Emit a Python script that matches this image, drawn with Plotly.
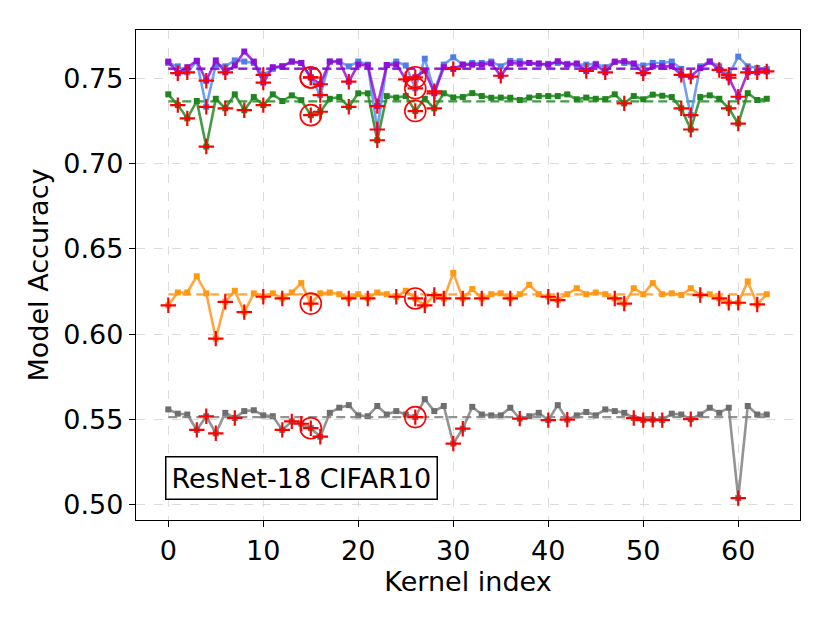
import plotly.graph_objects as go

kernel_index = list(range(64))

gray_acc = [0.556, 0.5535, 0.553, 0.544, 0.552, 0.542, 0.554, 0.551, 0.555, 0.5555,
            0.5525, 0.552, 0.544, 0.549, 0.5476, 0.545, 0.540, 0.554, 0.557, 0.5585,
            0.5525, 0.552, 0.558, 0.553, 0.555, 0.553, 0.5515, 0.562, 0.555, 0.558,
            0.536, 0.5447, 0.5575, 0.553, 0.5525, 0.5525, 0.557, 0.5506, 0.552, 0.554,
            0.5497, 0.5585, 0.550, 0.5525, 0.5545, 0.5525, 0.556, 0.555, 0.554, 0.551,
            0.5497, 0.550, 0.5497, 0.5535, 0.553, 0.5503, 0.553, 0.557, 0.554, 0.557,
            0.504, 0.558, 0.553, 0.553]
gray_base = 0.5515
gray_drop = [3, 4, 5, 7, 12, 13, 14, 15, 16, 26, 30, 31, 37, 40, 42, 49, 50, 51, 52, 55, 60]

orange_acc = [0.617, 0.6245, 0.6245, 0.634, 0.624, 0.5975, 0.619, 0.6255, 0.613, 0.624,
              0.622, 0.624, 0.621, 0.6245, 0.630, 0.618, 0.624, 0.6245, 0.6235, 0.621,
              0.6235, 0.621, 0.6245, 0.6235, 0.622, 0.6255, 0.621, 0.617, 0.623, 0.621,
              0.636, 0.621, 0.6265, 0.621, 0.6235, 0.624, 0.621, 0.6235, 0.629, 0.6235,
              0.622, 0.620, 0.6235, 0.627, 0.6235, 0.6245, 0.6235, 0.621, 0.618, 0.627,
              0.6235, 0.630, 0.6235, 0.624, 0.623, 0.627, 0.623, 0.6235, 0.621, 0.6185,
              0.6185, 0.631, 0.6175, 0.6235]
orange_base = 0.6234
orange_drop = [0, 5, 6, 8, 10, 12, 15, 19, 21, 24, 26, 27, 28, 29, 31, 33, 36, 40, 41,
               47, 48, 56, 58, 59, 60, 62]

green_acc = [0.7406, 0.7343, 0.7265, 0.7367, 0.710, 0.738, 0.7324, 0.7406, 0.7313, 0.739,
             0.7343, 0.7406, 0.7367, 0.740, 0.7372, 0.7284, 0.7304, 0.738, 0.739, 0.7333,
             0.7412, 0.7412, 0.7137, 0.7396, 0.7387, 0.7396, 0.7308, 0.738, 0.7324, 0.7412,
             0.7388, 0.739, 0.7413, 0.7396, 0.7386, 0.7387, 0.7386, 0.7373, 0.7387, 0.7396,
             0.7396, 0.7396, 0.7406, 0.7377, 0.7387, 0.738, 0.7378, 0.7406, 0.7353, 0.7396,
             0.7377, 0.7404, 0.7398, 0.739, 0.7324, 0.720, 0.739, 0.740, 0.738, 0.7324,
             0.7235, 0.7413, 0.7373, 0.738]
green_base = 0.7365
green_drop = [1, 2, 4, 6, 8, 10, 15, 16, 19, 22, 26, 28, 48, 54, 55, 59, 60]

blue_acc = [0.759, 0.757, 0.7535, 0.760, 0.7333, 0.758, 0.757, 0.7605, 0.7598, 0.759,
            0.752, 0.7555, 0.757, 0.7598, 0.759, 0.7505, 0.7402, 0.7598, 0.7598, 0.757,
            0.7598, 0.758, 0.720, 0.7578, 0.7598, 0.7575, 0.7441, 0.7615, 0.7424, 0.758,
            0.7623, 0.758, 0.759, 0.759, 0.7598, 0.757, 0.7602, 0.760, 0.759, 0.758,
            0.7585, 0.759, 0.7585, 0.758, 0.758, 0.7585, 0.7565, 0.7595, 0.759, 0.758,
            0.7575, 0.759, 0.759, 0.7598, 0.7555, 0.7284, 0.757, 0.7598, 0.757, 0.752,
            0.7627, 0.757, 0.756, 0.7555]
blue_base = 0.7558
blue_drop = [2, 4, 10, 15, 16, 22, 26, 28, 55, 59]

purple_acc = [0.7598, 0.753, 0.7565, 0.7603, 0.7486, 0.7605, 0.7535, 0.7575, 0.7657, 0.7598,
              0.7475, 0.7565, 0.757, 0.7598, 0.759, 0.7505, 0.7465, 0.7598, 0.7598, 0.748,
              0.758, 0.7575, 0.7337, 0.7578, 0.758, 0.7494, 0.7506, 0.7545, 0.7412, 0.7565,
              0.7555, 0.758, 0.758, 0.758, 0.7587, 0.7515, 0.759, 0.7585, 0.759, 0.7587,
              0.758, 0.760, 0.758, 0.7587, 0.7543, 0.758, 0.7535, 0.7598, 0.760, 0.7587,
              0.753, 0.757, 0.757, 0.757, 0.752, 0.751, 0.756, 0.7598, 0.7549, 0.7504,
              0.7392, 0.7535, 0.7535, 0.754]
purple_base = 0.7555
purple_drop = [1, 4, 6, 10, 15, 16, 19, 22, 25, 26, 28, 30, 35, 44, 46, 50, 54, 55, 58,
               59, 60, 61, 62, 63]

circled = [15, 26]

series = [
    (gray_acc, gray_base, gray_drop, "rgba(128,128,128,0.85)", "#6e6e6e"),
    (orange_acc, orange_base, orange_drop, "rgba(255,150,30,0.85)", "#ff9a10"),
    (green_acc, green_base, green_drop, "rgba(34,139,34,0.85)", "#1f861f"),
    (blue_acc, blue_base, blue_drop, "rgba(100,149,237,0.9)", "#4f7fe6"),
    (purple_acc, purple_base, purple_drop, "rgba(148,0,211,0.8)", "#9010d8"),
]

fig = go.Figure()
for acc, base, drop, lcol, mcol in series:
    fig.add_trace(go.Scatter(
        x=kernel_index, y=acc, mode="lines+markers",
        line=dict(color=lcol, width=2.6),
        marker=dict(symbol="square", size=6, color=mcol),
        showlegend=False, hoverinfo="skip"))
    fig.add_trace(go.Scatter(
        x=[kernel_index[0], kernel_index[-1]], y=[base, base], mode="lines",
        line=dict(color=lcol, width=2.4, dash="9px,5px"),
        showlegend=False, hoverinfo="skip"))
for acc, base, drop, lcol, mcol in series:
    fig.add_trace(go.Scatter(
        x=drop, y=[acc[i] for i in drop], mode="markers",
        marker=dict(symbol="cross-thin", size=11, color="red",
                    line=dict(color="red", width=2.2)),
        showlegend=False, hoverinfo="skip"))
for acc, base, drop, lcol, mcol in series:
    fig.add_trace(go.Scatter(
        x=circled, y=[acc[i] for i in circled], mode="markers",
        marker=dict(symbol="circle-open", size=21, color="red",
                    line=dict(color="red", width=1.6)),
        showlegend=False, hoverinfo="skip"))

fig.add_annotation(
    x=0.2485, y=0.0857, xref="paper", yref="paper",
    xanchor="center", yanchor="middle",
    text="ResNet-18 CIFAR10", showarrow=False,
    font=dict(family="DejaVu Sans", size=27, color="black"),
    bgcolor="white", bordercolor="black", borderwidth=1.5, borderpad=5)

axis_common = dict(
    showline=True, linecolor="black", linewidth=1.3, mirror=True,
    ticks="outside", ticklen=6, tickwidth=1.3, tickcolor="black",
    showgrid=True, gridcolor="#dcdcdc", griddash="dash", gridwidth=1.2,
    zeroline=False, tickfont=dict(family="DejaVu Sans", size=27, color="black"),
)

fig.update_layout(
    width=830, height=623,
    margin=dict(l=128, r=38, t=22, b=111),
    plot_bgcolor="white", paper_bgcolor="white",
    font=dict(family="DejaVu Sans", color="black"),
    xaxis=dict(axis_common, range=[-3.4, 66.5], tickvals=[0, 10, 20, 30, 40, 50, 60],
               title=dict(text="Kernel index", font=dict(size=27), standoff=0)),
    yaxis=dict(axis_common, range=[0.4912, 0.7783],
               tickvals=[0.50, 0.55, 0.60, 0.65, 0.70, 0.75], tickformat=".2f",
               title=dict(text="Model Accuracy", font=dict(size=27), standoff=6)),
)

fig.write_html("out.html")
